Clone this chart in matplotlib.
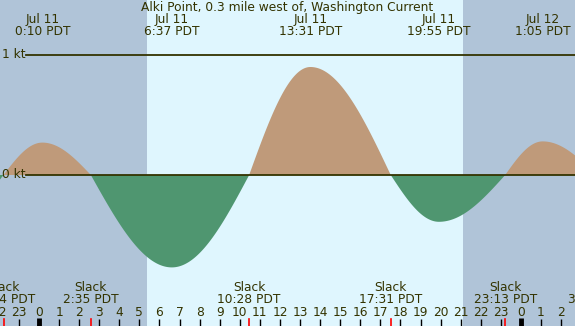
import numpy as np
import matplotlib.pyplot as plt

# hours relative to Jul 11 00:00 PDT
event_hours = [-4.33, -1.767, 0.167, 2.583, 6.617, 10.467, 13.517, 17.517, 19.917, 23.217, 25.083, 27.75]
event_speeds = [-0.35, 0.0, 0.27, 0.0, -0.77, 0.0, 0.90, 0.0, -0.39, 0.0, 0.28, 0.0]
event_labels = ["19:40", "22:14", "0:10", "2:35", "6:37", "10:28", "13:31", "17:31", "19:55", "23:13", "1:05", "3:45"]
event_dates = ["Jul 10", "Jul 10", "Jul 11", "Jul 11", "Jul 11", "Jul 11", "Jul 11", "Jul 11", "Jul 11", "Jul 11", "Jul 12", "Jul 12"]

sunrise = 5.38
sunset = 21.12
hour_ticks = list(range(-2, 28))

title = "Alki Point, 0.3 mile west of, Washington Current"

night_color = "#b0c4d8"
day_color = "#dff6fe"
flood_color = "#bf9a7a"
ebb_color = "#4f9670"
ink = "#333300"

W, H = 575, 326
px_per_hour = 20.08
x0 = -39 / px_per_hour
x1 = (W - 39) / px_per_hour
px_per_kt = 120.0
y1 = 175 / px_per_kt
y0 = -(H - 175) / px_per_kt


def current_curve(hours, speeds, n=60):
    # quarter sine between slack and max, cosine back down
    t_all, v_all = [], []
    for i in range(len(hours) - 1):
        s = np.linspace(0, 1, n)
        t = hours[i] + s * (hours[i + 1] - hours[i])
        if speeds[i] == 0:
            v = speeds[i + 1] * np.sin(np.pi / 2 * s)
        else:
            v = speeds[i] * np.cos(np.pi / 2 * s)
        t_all.append(t)
        v_all.append(v)
    return np.concatenate(t_all), np.concatenate(v_all)


fig = plt.figure(figsize=(W / 100, H / 100), dpi=100)
ax = fig.add_axes([0, 0, 1, 1])
ax.set_xlim(x0, x1)
ax.set_ylim(y0, y1)
ax.axis("off")

ax.axvspan(x0 - 5, sunrise, color=night_color, lw=0)
ax.axvspan(sunrise, sunset, color=day_color, lw=0)
ax.axvspan(sunset, x1 + 5, color=night_color, lw=0)

t, v = current_curve(event_hours, event_speeds)
ax.fill_between(t, v, 0, where=v >= 0, interpolate=True, color=flood_color, lw=0)
ax.fill_between(t, v, 0, where=v <= 0, interpolate=True, color=ebb_color, lw=0)

fs = 8.8
line_start = x0 + 26 / px_per_hour
ax.plot([line_start, x1 + 1], [1, 1], color=ink, lw=1.3)
ax.plot([line_start, x1 + 1], [0, 0], color=ink, lw=1.3)
ax.text(x0 + 2 / px_per_hour, 1, "1 kt", ha="left", va="center", fontsize=fs, color=ink)
ax.text(x0 + 2 / px_per_hour, 0, "0 kt", ha="left", va="center", fontsize=fs, color=ink)


def fy(px):
    return 1 - px / H


trans = ax.get_xaxis_transform()
ax.text(0.5, fy(7.5), title, transform=ax.transAxes, ha="center", va="center",
        fontsize=fs, color=ink)

for h, sp, lab, d in zip(event_hours, event_speeds, event_labels, event_dates):
    if sp == 0:
        ax.text(h, fy(287.5), "Slack", transform=trans, ha="center", va="center",
                fontsize=fs, color=ink)
        ax.text(h, fy(299.5), lab + " PDT", transform=trans, ha="center", va="center",
                fontsize=fs, color=ink)
        ax.plot([h, h], [0, fy(319)], transform=trans, color="red", lw=1.2)
    elif x0 <= h <= x1:
        ax.text(h, fy(19.5), d, transform=trans, ha="center", va="center",
                fontsize=fs, color=ink)
        ax.text(h, fy(31.5), lab + " PDT", transform=trans, ha="center", va="center",
                fontsize=fs, color=ink)

for h in hour_ticks:
    label = str(h % 24)
    ax.text(h, fy(312), label, transform=trans, ha="center", va="center",
            fontsize=fs, color=ink)
    if h % 24 == 0:
        ax.plot([h, h], [0, fy(318)], transform=trans, color="black", lw=3.5,
                solid_capstyle="butt")
    else:
        ax.plot([h, h], [0, fy(319)], transform=trans, color="black", lw=1.0,
                solid_capstyle="butt")

fig.savefig("out.png", dpi=100)
